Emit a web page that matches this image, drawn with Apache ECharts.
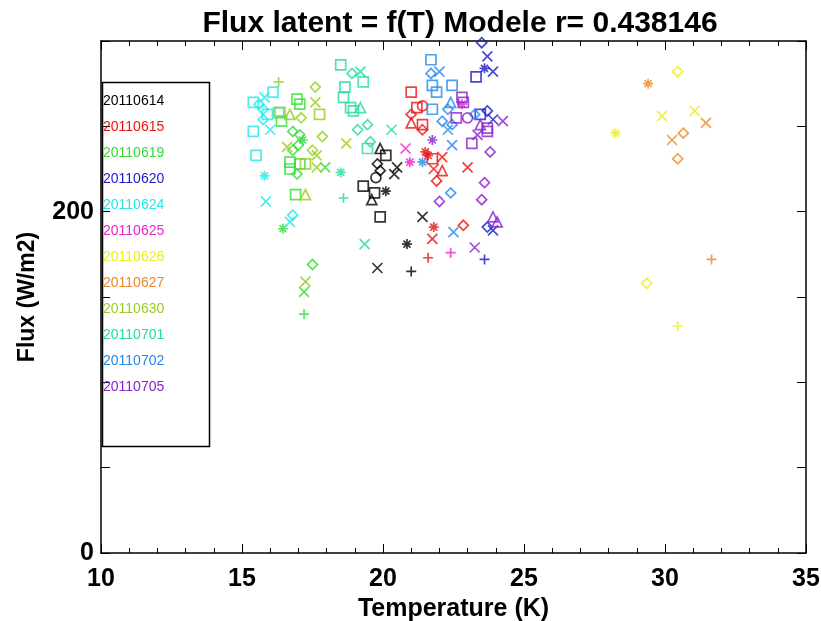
<!DOCTYPE html>
<html>
<head>
<meta charset="utf-8">
<script src="https://cdn.jsdelivr.net/npm/echarts@6/dist/echarts.min.js"></script>
<style>
html,body{margin:0;padding:0;background:#fff;}
#chart{width:821px;height:621px;}
</style>
</head>
<body>
<div id="chart"></div>
<script>
// ---- Data (temperature K, latent flux W/m2, marker kind) ----
const dates = ['20110614','20110615','20110619','20110620','20110624','20110625','20110626','20110627','20110630','20110701','20110702','20110705'];
const colors = ['#000000','#ee1111','#33dd33','#1a1acc','#22e8e8','#ee22cc','#eeee11','#ee8822','#99cc22','#22dd99','#2288ee','#8822cc'];

const p20110614 = [[19.9,237,'tr'],[20.1,233,'sq'],[19.8,228,'di'],[19.9,224,'di'],[20.5,226,'x'],[20.4,222,'x'],[19.75,220,'ci'],[19.3,215,'sq'],[19.7,211,'sq'],[19.6,207,'tr'],[20.1,212,'as'],[19.9,197,'sq'],[21.4,197,'x'],[20.85,181,'as'],[19.8,167,'x'],[21.0,165,'pl']];
const p20110615 = [[21.0,270,'sq'],[21.2,261,'sq'],[21.4,262,'ci'],[21.0,257,'di'],[21.0,252,'tr'],[21.4,251,'sq'],[21.4,248,'di'],[21.5,235,'as'],[21.6,233,'as'],[21.75,231,'sq'],[22.1,232,'x'],[21.8,225,'x'],[22.1,224,'tr'],[21.9,218,'di'],[23.0,226,'x'],[21.8,191,'as'],[21.75,184,'x'],[21.6,173,'pl'],[22.85,192,'di']];
const p20110619 = [[16.95,266,'sq'],[17.05,263,'sq'],[16.4,253,'sq'],[16.8,247,'di'],[17.05,245,'di'],[17.15,242,'as'],[17.0,239,'di'],[16.8,236,'di'],[16.7,229,'sq'],[17.05,228,'sq'],[16.7,225,'sq'],[16.95,222,'di'],[16.9,210,'sq'],[16.45,190,'as'],[17.5,169,'di'],[17.2,153,'x'],[17.2,140,'pl'],[17.95,226,'x']];
const p20110620 = [[23.5,299,'di'],[23.7,291,'x'],[23.6,284,'as'],[23.9,282,'x'],[23.3,279,'sq'],[23.45,257,'sq'],[23.7,259,'di'],[23.9,254,'x'],[23.7,191,'di'],[23.9,189,'x'],[23.6,172,'pl']];
const p20110624 = [[15.4,264,'sq'],[16.1,270,'sq'],[15.8,267,'x'],[15.6,263,'di'],[15.75,260,'di'],[15.9,257,'sq'],[15.75,254,'di'],[16.3,258,'sq'],[16.0,248,'x'],[15.4,247,'sq'],[15.5,233,'sq'],[15.8,221,'as'],[15.85,206,'x'],[16.8,198,'di'],[16.7,194,'x']];
const p20110625 = [[22.8,263,'as'],[20.8,237,'x'],[20.95,229,'as'],[22.4,176,'pl']];
const p20110626 = [[30.45,282,'di'],[29.9,256,'x'],[31.05,259,'x'],[28.25,246,'as'],[29.35,158,'di'],[30.45,133,'pl']];
const p20110627 = [[29.4,275,'as'],[30.25,242,'x'],[30.65,246,'di'],[30.45,231,'di'],[31.45,252,'x'],[31.65,172,'pl']];
const p20110630 = [[16.3,276,'pl'],[17.6,273,'di'],[17.6,264,'x'],[17.75,257,'sq'],[17.1,255,'di'],[16.7,257,'tr'],[16.35,258,'sq'],[16.6,238,'x'],[17.85,244,'di'],[17.5,236,'di'],[17.65,233,'x'],[17.65,226,'x'],[17.25,228,'sq'],[17.25,210,'tr'],[18.7,240,'x'],[17.25,159,'x']];
const p20110701 = [[18.5,286,'sq'],[18.9,281,'di'],[19.2,282,'x'],[19.3,276,'sq'],[18.65,273,'sq'],[18.6,267,'sq'],[18.85,261,'sq'],[18.95,259,'sq'],[19.2,261,'tr'],[19.45,251,'di'],[19.1,248,'di'],[20.3,248,'x'],[19.55,241,'di'],[18.5,223,'as'],[18.6,208,'pl'],[19.35,181,'x'],[19.45,237,'sq']];
const p20110702 = [[21.7,289,'sq'],[21.7,281,'di'],[22.0,282,'x'],[21.75,274,'sq'],[21.9,270,'sq'],[22.45,274,'sq'],[22.4,264,'tr'],[22.3,260,'di'],[21.75,260,'sq'],[22.1,253,'di'],[22.45,251,'di'],[22.3,248,'x'],[22.45,239,'x'],[21.4,229,'as'],[23.25,257,'di'],[22.4,211,'di'],[22.5,188,'x']];
const p20110705 = [[22.8,267,'sq'],[22.85,264,'sq'],[22.6,255,'sq'],[23.0,255,'ci'],[23.45,251,'tr'],[23.7,249,'sq'],[23.7,247,'sq'],[23.35,245,'x'],[24.25,253,'x'],[23.15,240,'sq'],[21.75,242,'as'],[23.8,235,'di'],[23.6,217,'di'],[23.5,207,'di'],[23.9,197,'tr'],[24.05,194,'tr'],[23.25,179,'x'],[22.0,206,'di']];

const seriesPoints = [p20110614,p20110615,p20110619,p20110620,p20110624,p20110625,p20110626,p20110627,p20110630,p20110701,p20110702,p20110705];

const xTickLabels = [10,15,20,25,30,35];
const yTickLabels = [0,200];
const titleText = 'Flux latent = f(T) Modele r= 0.438146';

// ---- Marker shapes (IDL-like psym) ----
const SYM = {
  sq: 'rect',
  di: 'diamond',
  tr: 'triangle',
  ci: 'circle',
  pl: 'path://M5,0L5,10M0,5L10,5',
  x: 'path://M0,0L10,10M10,0L0,10',
  as: 'path://M5,0L5,10M0,5L10,5M1.5,1.5L8.5,8.5M8.5,1.5L1.5,8.5'
};

const FONT = '"Liberation Sans Narrow","Liberation Sans",Arial,sans-serif';

const chart = echarts.init(document.getElementById('chart'), null, {renderer:'canvas'});

const series = dates.map((d,i)=>({
  name: d,
  type: 'scatter',
  data: seriesPoints[i],
  symbol: (v)=>SYM[v[2]],
  symbolSize: 10,
  itemStyle: {color:'rgba(0,0,0,0)', borderColor: colors[i], borderWidth: 1.7},
  emphasis: {disabled:true},
  xAxisIndex: 0, yAxisIndex: 0
}));

const axisCommon = {
  axisLine:{show:true, onZero:false, lineStyle:{color:'#000', width:1.5}},
  splitLine:{show:false}
};

chart.setOption({
  animation:false,
  backgroundColor:'#fff',
  title:{
    text:titleText, left:455, top:4, textAlign:'center',
    textStyle:{fontFamily:FONT, fontWeight:'bold', fontSize:30, color:'#000'}
  },
  grid:{left:101, right:15, top:41, bottom:68, containLabel:false, outerBoundsMode:'none'},
  legend:{
    orient:'vertical', left:98, top:94, padding:0, itemGap:12, itemWidth:0, itemHeight:14,
    selectedMode:false,
    data: dates.map((d,i)=>({name:d, icon:'none', textStyle:{color:colors[i]}})),
    textStyle:{fontFamily:'"Liberation Sans",Arial,sans-serif', fontSize:14}
  },
  graphic:[{type:'rect', left:100, top:80, shape:{width:107, height:364}, style:{fill:'none', stroke:'#000', lineWidth:1.5}, z:10}],
  xAxis:[
    Object.assign({}, axisCommon, {
      type:'value', min:10, max:35, interval:5, position:'bottom',
      name:'Temperature (K)', nameLocation:'middle', nameGap:42,
      nameTextStyle:{fontFamily:FONT, fontWeight:'bold', fontSize:25, color:'#000'},
      axisTick:{show:true, inside:true, length:9, lineStyle:{color:'#000', width:1}},
      minorTick:{show:true, splitNumber:5, length:5, lineStyle:{color:'#000', width:1}},
      axisLabel:{margin:14, fontFamily:FONT, fontWeight:'bold', fontSize:25, color:'#000',
        formatter:(v)=> xTickLabels.includes(v) ? String(v) : ''}
    }),
    Object.assign({}, axisCommon, {
      type:'value', min:10, max:35, interval:5, position:'top',
      axisTick:{show:true, inside:true, length:9, lineStyle:{color:'#000', width:1}},
      minorTick:{show:true, splitNumber:5, length:5, lineStyle:{color:'#000', width:1}},
      axisLabel:{margin:35, fontFamily:FONT, fontWeight:'bold', fontSize:25, color:'#000',
        formatter:(v)=> xTickLabels.includes(v) ? String(v) : ''}
    })
  ],
  yAxis:[
    Object.assign({}, axisCommon, {
      type:'value', min:0, max:300, interval:50, position:'left',
      name:'Flux (W/m2)', nameLocation:'middle', nameGap:62, nameRotate:90,
      nameTextStyle:{fontFamily:FONT, fontWeight:'bold', fontSize:23, color:'#000'},
      axisTick:{show:true, inside:true, length:9, lineStyle:{color:'#000', width:1}},
      axisLabel:{margin:7, fontFamily:FONT, fontWeight:'bold', fontSize:25, color:'#000',
        formatter:(v)=> yTickLabels.includes(v) ? String(v) : ''}
    }),
    Object.assign({}, axisCommon, {
      type:'value', min:0, max:300, interval:50, position:'right',
      axisTick:{show:true, inside:true, length:9, lineStyle:{color:'#000', width:1}},
      axisLabel:{show:false}
    })
  ],
  series: series
});
</script>
</body>
</html>
